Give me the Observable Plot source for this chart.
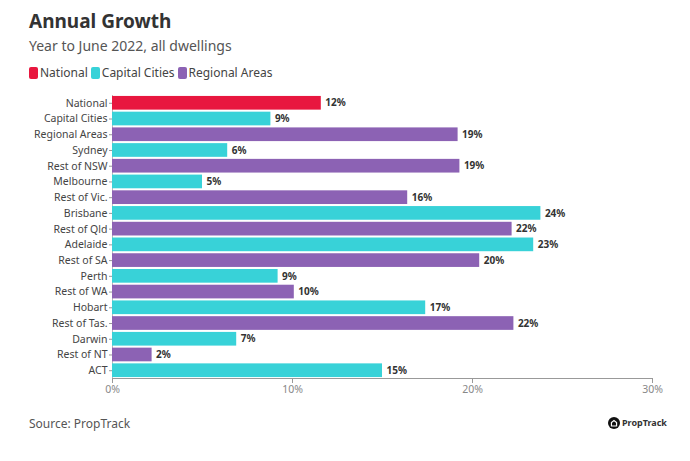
<!DOCTYPE html>
<html><head><meta charset="utf-8">
<script src="https://cdn.jsdelivr.net/npm/d3@7"></script>
<script src="https://cdn.jsdelivr.net/npm/@observablehq/plot@0.6"></script>
<style>
body{margin:0;background:#fff;font-family:"Noto Sans",sans-serif;}
#wrap{position:relative;width:690px;height:461px;}
h1{position:absolute;left:29px;top:8px;margin:0;font-size:19px;font-weight:700;color:#333;}
.sub{position:absolute;left:29px;top:36px;font-size:14px;color:#555;}
.legend{position:absolute;left:29px;top:64px;font-size:12px;color:#444;display:flex;gap:3px;align-items:center;}
.legend span.sw{display:inline-block;width:9px;height:12px;border-radius:2px;margin-right:2px;vertical-align:-2px;}
#chart{position:absolute;left:0;top:88px;}
.src{position:absolute;left:29px;top:415px;font-size:12px;color:#555;}
.logo{position:absolute;left:608px;top:416px;font-size:9px;font-weight:700;color:#333;display:flex;align-items:center;gap:2px;}
</style></head><body>
<div id="wrap">
<h1>Annual Growth</h1>
<div class="sub">Year to June 2022, all dwellings</div>
<div class="legend" id="legend"></div>
<div id="chart"></div>
<div class="src">Source: PropTrack</div>
<div class="logo"><svg width="12" height="12" viewBox="0 0 14 14"><circle cx="7" cy="7" r="7" fill="#111"/><path d="M4 10.5V6.5L7 4L10 6.5V10.5Z" fill="none" stroke="#fff" stroke-width="1.4"/></svg>PropTrack</div>
</div>
<script>
const regions = ["National","Capital Cities","Regional Areas","Sydney","Rest of NSW","Melbourne","Rest of Vic.","Brisbane","Rest of Qld","Adelaide","Rest of SA","Perth","Rest of WA","Hobart","Rest of Tas.","Darwin","Rest of NT","ACT"];
const growth = [11.6,8.8,19.2,6.4,19.3,5.0,16.4,23.8,22.2,23.4,20.4,9.2,10.1,17.4,22.3,6.9,2.2,15.0];
const groups = ["National","Capital Cities","Regional Areas","Capital Cities","Regional Areas","Capital Cities","Regional Areas","Capital Cities","Regional Areas","Capital Cities","Regional Areas","Capital Cities","Regional Areas","Capital Cities","Regional Areas","Capital Cities","Regional Areas","Capital Cities"];
const groupNames = ["National","Capital Cities","Regional Areas"];
const groupColors = ["#e8173f","#38d2d8","#8c62b4"];
const xTicks = [0,10,20,30];

const data = regions.map((r,i)=>({region:r,value:growth[i],group:groups[i]}));

const lg = document.getElementById("legend");
groupNames.forEach((g,i)=>{
  const s=document.createElement("span");
  s.innerHTML=`<span class="sw" style="background:${groupColors[i]}"></span>${g}`;
  lg.appendChild(s);
});

const chart = Plot.plot({
  width:690,height:312,
  marginLeft:112,marginRight:38,marginTop:7,marginBottom:22,
  style:{fontFamily:"Noto Sans",fontSize:"10.5px",color:"#444"},
  x:{domain:[0,30]},
  y:{domain:regions,paddingInner:0.13,paddingOuter:0.06,round:false},
  color:{domain:groupNames,range:groupColors},
  marks:[
    Plot.ruleX([0],{stroke:"#bbb"}),
    Plot.barX(data,{y:"region",x:"value",fill:"group"}),
    Plot.text(data,{y:"region",x:"value",text:d=>Math.round(d.value)+"%",textAnchor:"start",dx:4,fontWeight:"bold",fontSize:10,fill:"#333"}),
    Plot.axisY({tickSize:3,tickPadding:2,label:null,fontSize:10.5,color:"#444",stroke:"#999"}),
    Plot.axisX({ticks:xTicks,tickFormat:d=>d+"%",tickSize:5,tickPadding:2,label:null,color:"#888",stroke:"#999"}),
    Plot.frame({anchor:"bottom",stroke:"#999"})
  ]
});
document.getElementById("chart").appendChild(chart);
</script>
</body></html>
